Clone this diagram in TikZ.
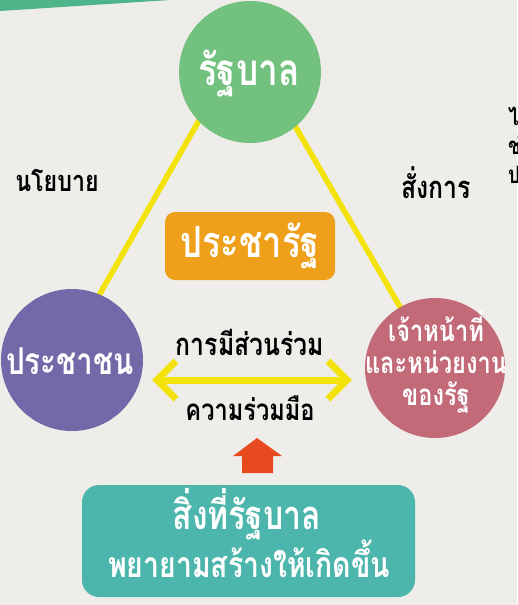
\documentclass[tikz,border=0pt]{standalone}
\usepackage{fontspec}
\newfontfamily\thai[Script=Thai,FakeStretch=0.8]{Loma}
\definecolor{bg}{HTML}{EEEDE9}
\definecolor{bargreen}{HTML}{4DB589}
\definecolor{govgreen}{HTML}{73C17E}
\definecolor{ppl}{HTML}{7369A9}
\definecolor{stpink}{HTML}{C26A78}
\definecolor{ylw}{HTML}{F4E30A}
\definecolor{orng}{HTML}{EEA01B}
\definecolor{tealbox}{HTML}{4DB6AC}
\definecolor{redarr}{HTML}{E84A20}
\tikzset{
  bubble/.style={circle, inner sep=0pt},
  wtext/.style={text=white, align=center, inner sep=0pt},
  yline/.style={draw=ylw, line width=5.5pt},
  yarrow/.style={draw=ylw, line width=7pt, miter limit=10},
  lbl/.style={text=black, inner sep=0pt, font=\thai\bfseries\fontsize{29}{31}\selectfont},
  boxshape/.style={rectangle, inner sep=0pt},
}
\begin{document}
\begin{tikzpicture}[x=1pt,y=-1pt]
\useasboundingbox (0,0) rectangle (517,605);
\fill[bg] (0,0) rectangle (517,605);
\fill[bargreen] (0,0) -- (170,0) -- (0,11) -- cycle;
% triangle corners
\coordinate (apex) at (245,40);
\coordinate (bl) at (62,360);
\coordinate (br) at (435,367);
\draw[yline] (apex) -- (bl);
\draw[yline] (apex) -- (br);
% circles
\node[bubble, fill=govgreen, minimum size=142pt] (gov) at (250,72) {};
\node[wtext, font=\thai\bfseries\fontsize{44}{46}\selectfont] (govt) at (249,74) {รัฐบาล};
\node[bubble, fill=ppl, minimum size=142pt] (people) at (72,360) {};
\node[wtext, font=\thai\bfseries\fontsize{37}{40}\selectfont] (peoplet) at (70,361) {ประชาชน};
\node[bubble, fill=stpink, minimum size=140pt] (state) at (435,368) {};
\node[wtext, font=\thai\bfseries\fontsize{29.5}{32}\selectfont] (statet) at (436,362) {เจ้าหน้าที่\\และหน่วยงาน\\ของรัฐ};
% side labels
\node[lbl] (policy) at (57,180) {นโยบาย};
\node[lbl, font=\thai\bfseries\fontsize{31}{33}\selectfont] (order) at (436,183) {สั่งการ};
% centre box
\node[boxshape, fill=orng, rounded corners=10pt, minimum width=170pt, minimum height=68pt] (pracharat) at (250,246) {};
\node[wtext, font=\thai\bfseries\fontsize{43}{45}\selectfont] (pracharatt) at (250,246) {ประชารัฐ};
% double arrow
\coordinate (arrL) at (157,380);
\coordinate (arrR) at (347,380);
\draw[yarrow] (arrL) -- (arrR);
\draw[yarrow] ([xshift=19pt,yshift=19pt]arrL) -- (arrL) -- ([xshift=19pt,yshift=-19pt]arrL);
\draw[yarrow] ([xshift=-19pt,yshift=19pt]arrR) -- (arrR) -- ([xshift=-19pt,yshift=-19pt]arrR);
\node[lbl, font=\thai\bfseries\fontsize{31}{33}\selectfont] (particip) at (250,342) {การมีส่วนร่วม};
\node[lbl, font=\thai\bfseries\fontsize{29.5}{33}\selectfont] (coop) at (250,408) {ความร่วมมือ};
% red up arrow
\fill[redarr] (257,438) -- (282,456) -- (273,456) -- (273,473) -- (242,473) -- (242,456) -- (233,456) -- cycle;
% bottom box
\node[boxshape, fill=tealbox, rounded corners=17pt, minimum width=333pt, minimum height=112pt] (goal) at (248.5,541) {};
\node[wtext, font=\thai\bfseries\fontsize{40}{42}\selectfont] (goal1) at (247,514) {สิ่งที่รัฐบาล};
\node[wtext, font=\thai\bfseries\fontsize{35.5}{38}\selectfont] (goal2) at (249,559) {พยายามสร้างให้เกิดขึ้น};
% clipped text at right edge
\node[lbl, anchor=west, font=\thai\bfseries\fontsize{24}{26}\selectfont] (r1) at (508,115) {ไม่มี};
\node[lbl, anchor=west, font=\thai\bfseries\fontsize{24}{26}\selectfont] (r2) at (508,145) {ช่วย};
\node[lbl, anchor=west, font=\thai\bfseries\fontsize{24}{26}\selectfont] (r3) at (508,175) {ประ};
\end{tikzpicture}
\end{document}
